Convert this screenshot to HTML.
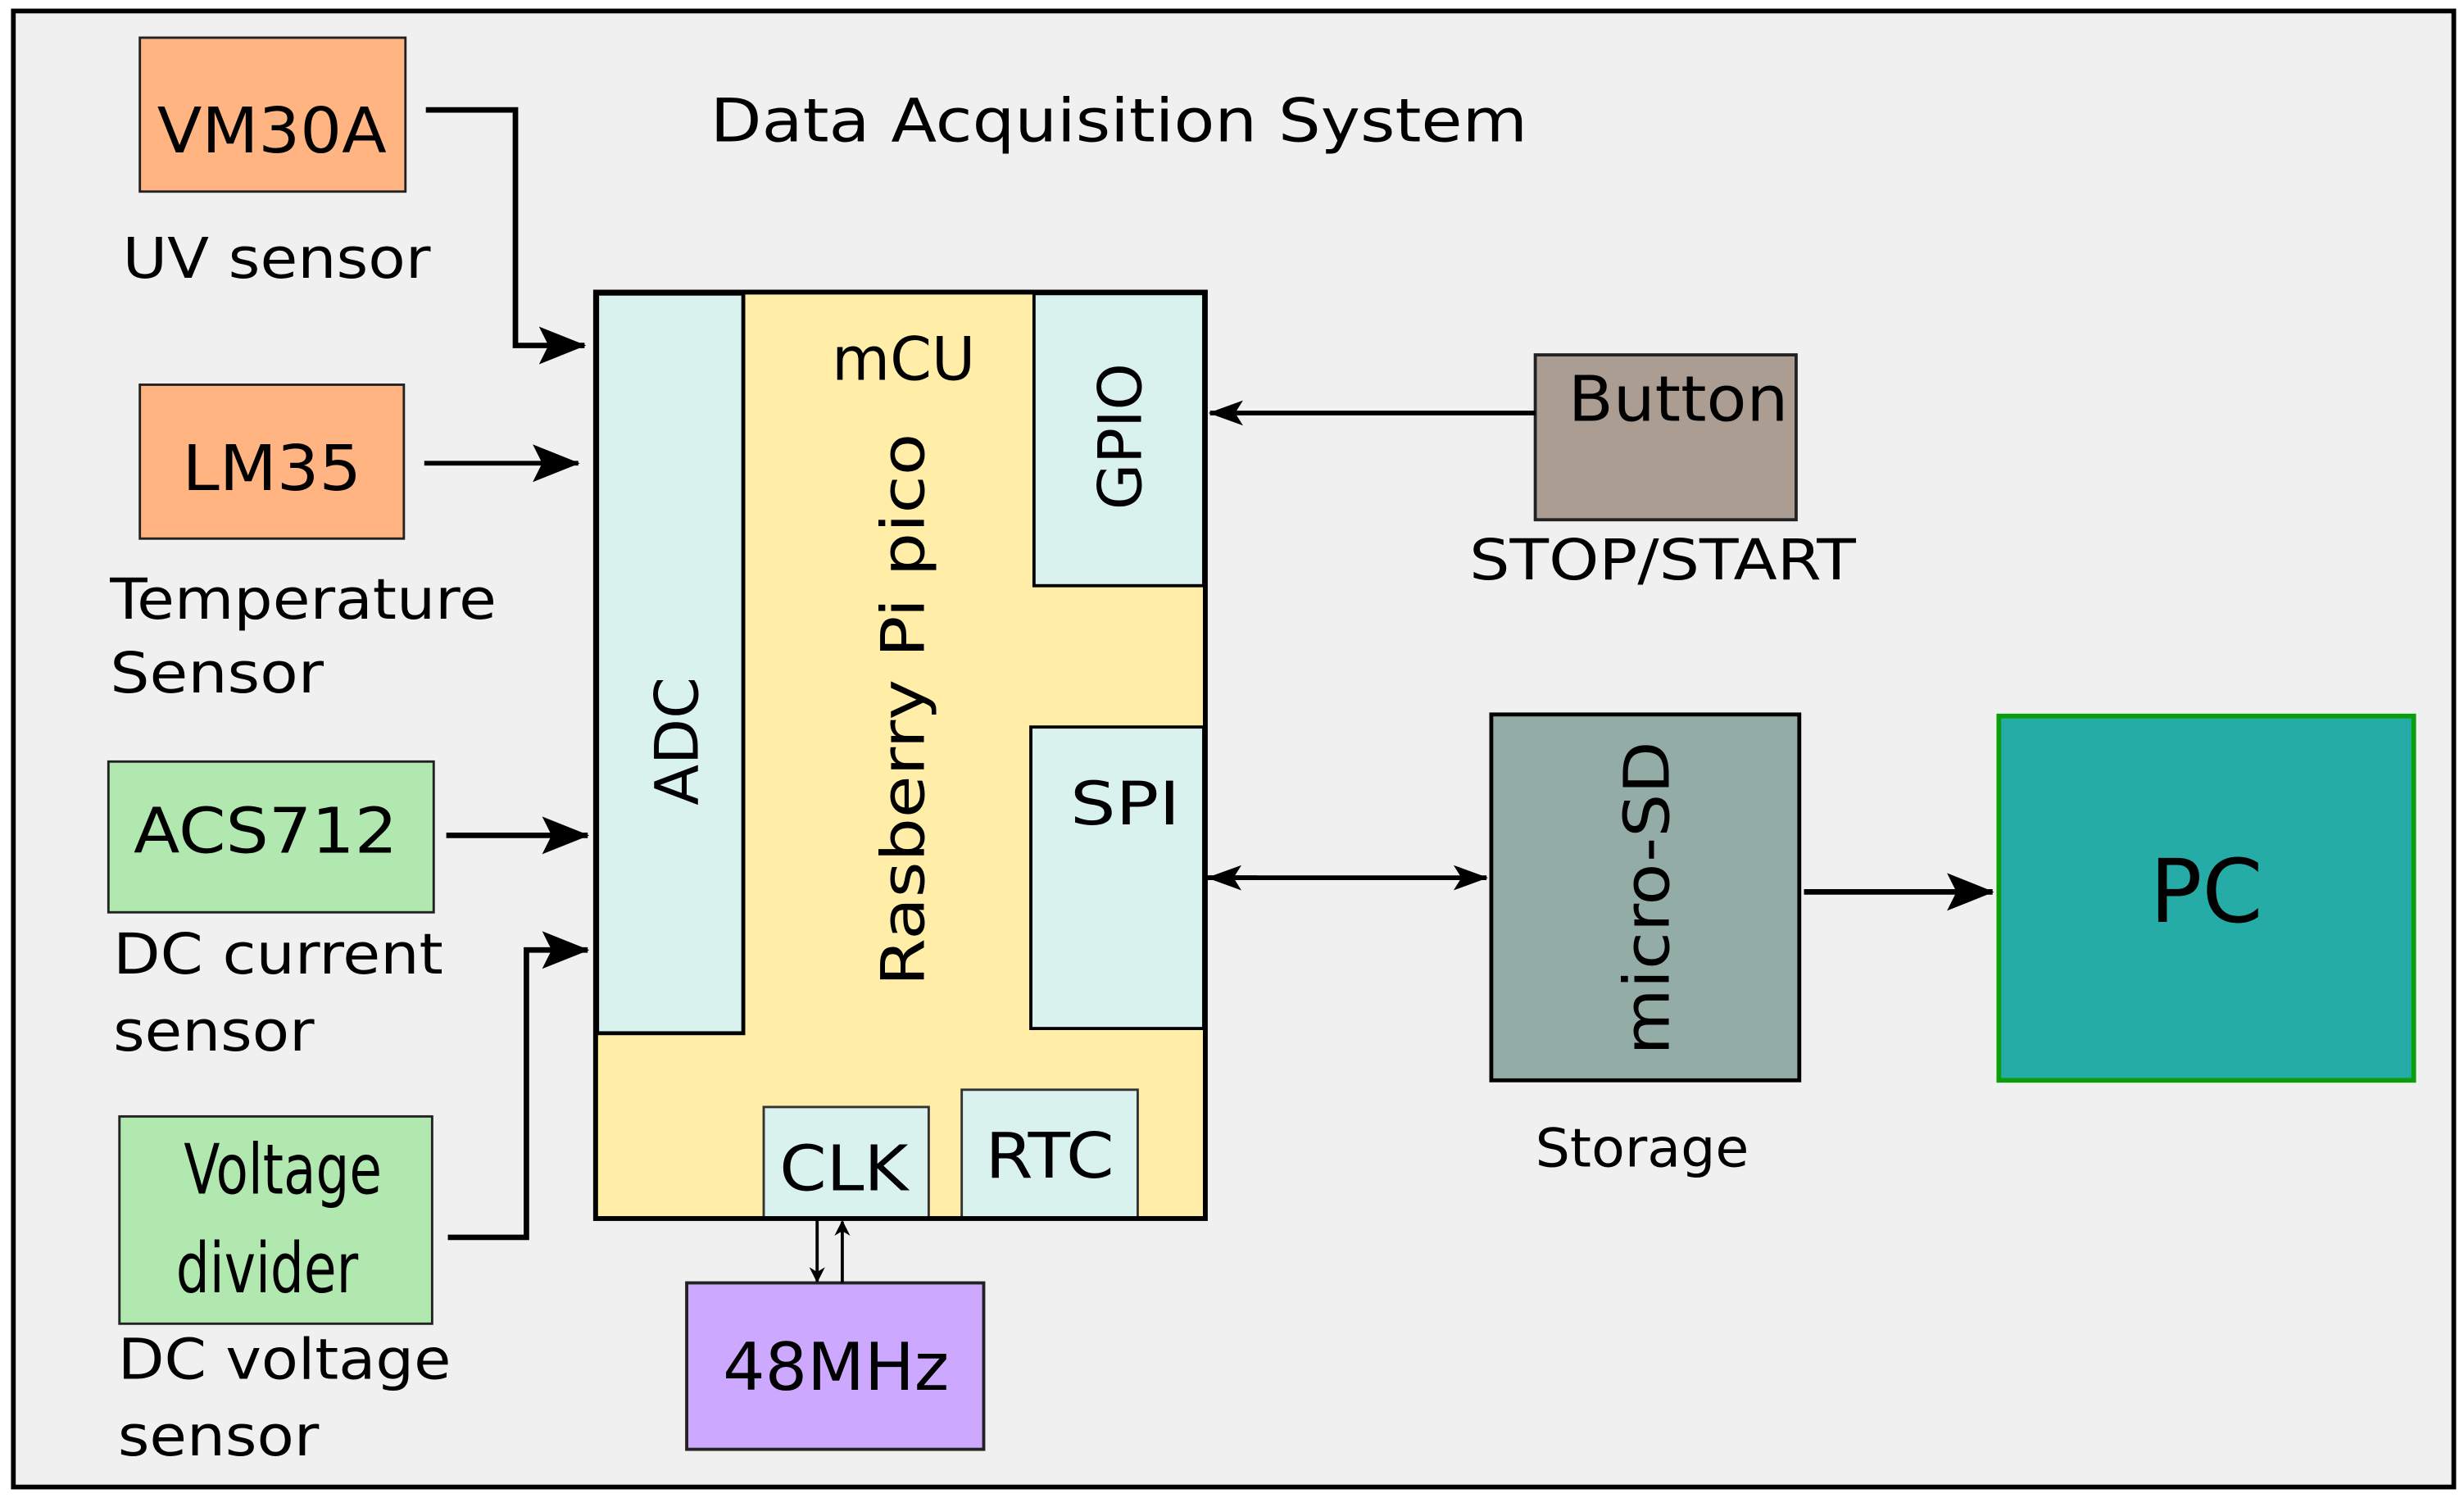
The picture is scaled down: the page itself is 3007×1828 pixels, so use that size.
<!DOCTYPE html>
<html><head><meta charset="utf-8"><style>
html,body{margin:0;padding:0;background:#fff;width:3007px;height:1828px;overflow:hidden}
svg{display:block}
text{font-family:"DejaVu Sans","Liberation Sans",sans-serif;fill:#000}
</style></head><body>
<svg width="3007" height="1828" viewBox="0 0 1568 954" preserveAspectRatio="none">
<defs>
<marker id="ah" markerWidth="10" markerHeight="10" refX="9" refY="5" orient="auto" markerUnits="userSpaceOnUse"><path d="M0,0 L10,5 L0,10 L3,5 Z" fill="#000"/></marker>
<marker id="big" markerWidth="30" markerHeight="24" refX="29" refY="12" orient="auto" markerUnits="userSpaceOnUse"><path d="M0,0 L30,12 L0,24 L6,12 Z" fill="#000"/></marker>
<marker id="sm" markerWidth="22" markerHeight="16" refX="21" refY="8" orient="auto" markerUnits="userSpaceOnUse"><path d="M0,0 L22,8 L0,16 L5,8 Z" fill="#000"/></marker>
</defs>
<rect x="0" y="0" width="1568" height="954" fill="#fff"/>
<rect x="8.5" y="7" width="1553" height="940" fill="#f0f0f0" stroke="#000" stroke-width="3"/>

<text x="452" y="90" font-size="38" textLength="520" lengthAdjust="spacingAndGlyphs">Data Acquisition System</text>

<!-- sensors -->
<rect x="89" y="24" width="169" height="98" fill="#ffb482" stroke="#222" stroke-width="1.5"/>
<text x="173" y="97" font-size="40" text-anchor="middle" textLength="146" lengthAdjust="spacingAndGlyphs">VM30A</text>
<text x="78" y="177" font-size="36" textLength="196" lengthAdjust="spacingAndGlyphs">UV sensor</text>

<rect x="89" y="245" width="168" height="98" fill="#ffb482" stroke="#222" stroke-width="1.5"/>
<text x="173" y="312" font-size="40" text-anchor="middle" textLength="114" lengthAdjust="spacingAndGlyphs">LM35</text>
<text x="70" y="394" font-size="36" textLength="246" lengthAdjust="spacingAndGlyphs">Temperature</text>
<text x="70" y="441" font-size="36" textLength="136" lengthAdjust="spacingAndGlyphs">Sensor</text>

<rect x="69" y="485" width="207" height="96" fill="#b0e8b0" stroke="#222" stroke-width="1.5"/>
<text x="169" y="543" font-size="40" text-anchor="middle" textLength="168" lengthAdjust="spacingAndGlyphs">ACS712</text>
<text x="72" y="620" font-size="36" textLength="210" lengthAdjust="spacingAndGlyphs">DC current</text>
<text x="72" y="669" font-size="36" textLength="128" lengthAdjust="spacingAndGlyphs">sensor</text>

<rect x="76" y="711" width="199" height="132" fill="#b0e8b0" stroke="#222" stroke-width="1.5"/>
<text x="180" y="760" font-size="44" text-anchor="middle" textLength="126" lengthAdjust="spacingAndGlyphs">Voltage</text>
<text x="170" y="823" font-size="44" text-anchor="middle" textLength="116" lengthAdjust="spacingAndGlyphs">divider</text>
<text x="75" y="878" font-size="36" textLength="212" lengthAdjust="spacingAndGlyphs">DC voltage</text>
<text x="75" y="927" font-size="36" textLength="128" lengthAdjust="spacingAndGlyphs">sensor</text>

<!-- mCU -->
<rect x="379" y="186" width="388" height="590" fill="#ffeda8" stroke="#000" stroke-width="3"/>
<rect x="380" y="187" width="93" height="471" fill="#d9f2ee" stroke="#000" stroke-width="2.5"/>
<rect x="658" y="187" width="108" height="186" fill="#d9f2ee" stroke="#000" stroke-width="2"/>
<rect x="656" y="463" width="110" height="192" fill="#d9f2ee" stroke="#000" stroke-width="2"/>
<rect x="486" y="705" width="105" height="71" fill="#d9f2ee" stroke="#333" stroke-width="1.5"/>
<rect x="612" y="694" width="112" height="82" fill="#d9f2ee" stroke="#333" stroke-width="1.5"/>
<rect x="379" y="186" width="388" height="590" fill="none" stroke="#000" stroke-width="3"/>

<text x="575" y="242" font-size="38" text-anchor="middle">mCU</text>
<text transform="translate(588,452) rotate(-90)" font-size="38" text-anchor="middle" textLength="352" lengthAdjust="spacingAndGlyphs">Rasberry Pi pico</text>
<text transform="translate(444,472) rotate(-90)" font-size="38" text-anchor="middle">ADC</text>
<text transform="translate(726,278) rotate(-90)" font-size="38" text-anchor="middle">GPIO</text>
<text x="716" y="525" font-size="38" text-anchor="middle" textLength="70" lengthAdjust="spacingAndGlyphs">SPI</text>
<text x="537" y="758" font-size="40" text-anchor="middle" textLength="82" lengthAdjust="spacingAndGlyphs">CLK</text>
<text x="668" y="750" font-size="40" text-anchor="middle" textLength="82" lengthAdjust="spacingAndGlyphs">RTC</text>

<rect x="437" y="817" width="189" height="106" fill="#cca8ff" stroke="#222" stroke-width="2"/>
<text x="532" y="885" font-size="42" text-anchor="middle" textLength="144" lengthAdjust="spacingAndGlyphs">48MHz</text>

<!-- right side -->
<rect x="977" y="226" width="166" height="105" fill="#ab9d92" stroke="#222" stroke-width="2"/>
<text x="1068" y="268" font-size="40" text-anchor="middle" textLength="140" lengthAdjust="spacingAndGlyphs">Button</text>
<text x="935" y="369" font-size="36" textLength="246" lengthAdjust="spacingAndGlyphs">STOP/START</text>

<rect x="949" y="455" width="196" height="233" fill="#94aca6" stroke="#000" stroke-width="2.5"/>
<text transform="translate(1062,572) rotate(-90)" font-size="40" text-anchor="middle" textLength="200" lengthAdjust="spacingAndGlyphs">micro-SD</text>
<text x="977" y="743" font-size="34" textLength="136" lengthAdjust="spacingAndGlyphs">Storage</text>

<rect x="1272" y="456" width="264" height="232" fill="#26aca6" stroke="#0a9e0a" stroke-width="3"/>
<text x="1404" y="587" font-size="56" text-anchor="middle" textLength="72" lengthAdjust="spacingAndGlyphs">PC</text>

<!-- connectors -->
<g stroke="#000" fill="none" stroke-width="3.5">
<polyline points="271,70 328,70 328,220 372,220" marker-end="url(#big)"/>
<line x1="270" y1="295" x2="368" y2="295" stroke-width="3" marker-end="url(#big)"/>
<line x1="284" y1="532" x2="374" y2="532" marker-end="url(#big)"/>
<polyline points="285,788 335,788 335,605 374,605" marker-end="url(#big)"/>
<line x1="977" y1="263" x2="770" y2="263" stroke-width="3" marker-end="url(#sm)"/>
<line x1="800" y1="559" x2="769" y2="559" stroke-width="3" marker-end="url(#sm)"/>
<line x1="768" y1="559" x2="946" y2="559" stroke-width="3" marker-end="url(#sm)"/>
<line x1="1148" y1="568" x2="1268" y2="568" marker-end="url(#big)"/>
<line x1="520" y1="777" x2="520" y2="816" stroke-width="2" marker-end="url(#ah)"/>
<line x1="536" y1="817" x2="536" y2="778" stroke-width="2" marker-end="url(#ah)"/>
</g>
</svg>
</body></html>
